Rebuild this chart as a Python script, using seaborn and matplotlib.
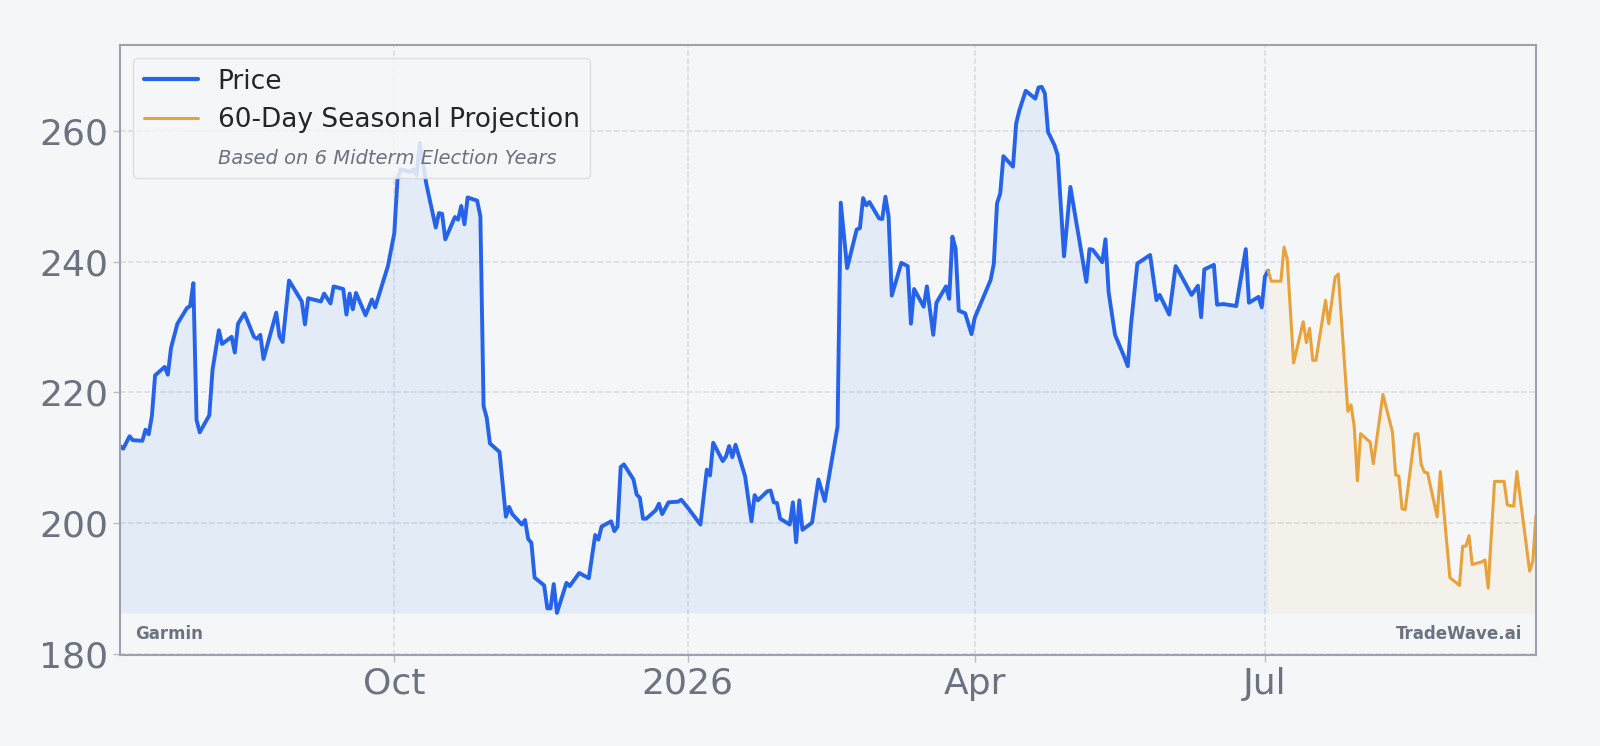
import pandas as pd
import matplotlib
matplotlib.use("Agg")
import matplotlib.pyplot as plt
import matplotlib.dates as mdates
from matplotlib.ticker import MultipleLocator, FuncFormatter
from matplotlib.lines import Line2D
import seaborn as sns

# ---- data ----
price_dates = [
    "2025-07-07", "2025-07-08", "2025-07-10", "2025-07-11", "2025-07-14", "2025-07-15", "2025-07-16",
    "2025-07-17", "2025-07-18", "2025-07-21", "2025-07-22", "2025-07-23", "2025-07-25", "2025-07-28",
    "2025-07-29", "2025-07-30", "2025-07-31", "2025-08-01", "2025-08-04", "2025-08-05", "2025-08-07",
    "2025-08-08", "2025-08-11", "2025-08-12", "2025-08-13", "2025-08-15", "2025-08-18", "2025-08-19",
    "2025-08-20", "2025-08-21", "2025-08-25", "2025-08-26", "2025-08-27", "2025-08-29", "2025-09-02",
    "2025-09-03", "2025-09-04", "2025-09-08", "2025-09-09", "2025-09-11", "2025-09-12", "2025-09-15",
    "2025-09-16", "2025-09-17", "2025-09-18", "2025-09-19", "2025-09-22", "2025-09-24", "2025-09-25",
    "2025-09-29", "2025-10-01", "2025-10-02", "2025-10-03", "2025-10-06", "2025-10-07", "2025-10-08",
    "2025-10-09", "2025-10-11", "2025-10-14", "2025-10-15", "2025-10-16", "2025-10-17", "2025-10-20",
    "2025-10-21", "2025-10-22", "2025-10-23", "2025-10-24", "2025-10-27", "2025-10-28", "2025-10-29",
    "2025-10-30", "2025-10-31", "2025-11-03", "2025-11-05", "2025-11-06", "2025-11-07", "2025-11-10",
    "2025-11-11", "2025-11-12", "2025-11-13", "2025-11-14", "2025-11-17", "2025-11-18", "2025-11-19",
    "2025-11-20", "2025-11-21", "2025-11-24", "2025-11-25", "2025-11-28", "2025-12-01", "2025-12-03",
    "2025-12-04", "2025-12-05", "2025-12-08", "2025-12-09", "2025-12-10", "2025-12-11", "2025-12-12",
    "2025-12-15", "2025-12-16", "2025-12-17", "2025-12-18", "2025-12-19", "2025-12-22", "2025-12-23",
    "2025-12-24", "2025-12-26", "2025-12-29", "2025-12-30", "2026-01-01", "2026-01-05", "2026-01-07",
    "2026-01-08", "2026-01-09", "2026-01-12", "2026-01-13", "2026-01-14", "2026-01-15", "2026-01-16",
    "2026-01-19", "2026-01-21", "2026-01-22", "2026-01-23", "2026-01-26", "2026-01-27", "2026-01-28",
    "2026-01-29", "2026-01-30", "2026-02-02", "2026-02-03", "2026-02-04", "2026-02-05", "2026-02-06",
    "2026-02-09", "2026-02-11", "2026-02-13", "2026-02-17", "2026-02-18", "2026-02-20", "2026-02-23",
    "2026-02-24", "2026-02-25", "2026-02-26", "2026-02-27", "2026-03-02", "2026-03-03", "2026-03-04",
    "2026-03-05", "2026-03-06", "2026-03-09", "2026-03-11", "2026-03-12", "2026-03-13", "2026-03-16",
    "2026-03-17", "2026-03-19", "2026-03-20", "2026-03-23", "2026-03-24", "2026-03-25", "2026-03-26",
    "2026-03-27", "2026-03-29", "2026-03-31", "2026-04-01", "2026-04-06", "2026-04-07", "2026-04-08",
    "2026-04-09", "2026-04-10", "2026-04-13", "2026-04-14", "2026-04-15", "2026-04-17", "2026-04-20",
    "2026-04-21", "2026-04-22", "2026-04-23", "2026-04-24", "2026-04-26", "2026-04-27", "2026-04-29",
    "2026-05-01", "2026-05-06", "2026-05-07", "2026-05-08", "2026-05-11", "2026-05-12", "2026-05-13",
    "2026-05-15", "2026-05-18", "2026-05-19", "2026-05-20", "2026-05-22", "2026-05-26", "2026-05-28",
    "2026-05-29", "2026-06-01", "2026-06-03", "2026-06-04", "2026-06-08", "2026-06-10", "2026-06-11",
    "2026-06-12", "2026-06-15", "2026-06-16", "2026-06-18", "2026-06-22", "2026-06-25", "2026-06-26",
    "2026-06-29", "2026-06-30", "2026-07-01", "2026-07-02",
]
price_values = [
    211.8, 211.4, 213.3, 212.7, 212.6, 214.3, 213.6,
    216.4, 222.6, 223.9, 222.7, 226.8, 230.5, 232.9,
    233.2, 236.7, 215.8, 213.9, 216.5, 223.4, 229.5,
    227.4, 228.5, 226.1, 230.5, 232.1, 228.5, 228.2,
    228.8, 225.1, 232.2, 228.6, 227.7, 237.1, 233.9,
    230.4, 234.4, 233.9, 235.1, 233.6, 236.2, 235.8,
    231.9, 235.1, 232.7, 235.2, 231.8, 234.2, 233.0,
    239.3, 244.3, 252.5, 254.1, 253.7, 254.1, 253.2,
    258.1, 252.0, 245.2, 247.4, 247.3, 243.4, 246.8,
    246.4, 248.5, 245.7, 249.8, 249.3, 246.9, 217.9,
    216.1, 212.2, 210.9, 201.0, 202.5, 201.4, 199.8,
    200.5, 197.6, 197.0, 191.7, 190.5, 187.0, 187.0,
    190.7, 186.3, 190.9, 190.4, 192.4, 191.6, 198.2,
    197.5, 199.5, 200.3, 198.8, 199.5, 208.6, 209.0,
    206.7, 204.4, 203.9, 200.7, 200.7, 202.0, 203.0,
    201.4, 203.2, 203.3, 203.6, 202.4, 199.8, 208.2,
    207.3, 212.3, 209.5, 210.2, 211.8, 210.1, 212.0,
    207.2, 200.3, 204.3, 203.5, 204.9, 205.0, 203.2,
    203.1, 200.7, 199.8, 203.2, 197.1, 203.5, 199.0,
    200.1, 206.7, 203.4, 214.8, 249.0, 239.0, 244.9,
    245.1, 249.7, 248.6, 249.1, 246.6, 246.5, 249.9,
    246.9, 234.8, 239.8, 239.3, 230.5, 235.8, 233.1,
    236.2, 228.8, 233.7, 236.2, 234.3, 243.8, 242.0,
    232.5, 232.1, 228.9, 231.4, 237.2, 239.7, 248.9,
    250.4, 256.1, 254.5, 261.1, 263.1, 266.1, 264.9,
    266.6, 266.7, 265.7, 259.8, 257.8, 256.3, 240.8,
    251.4, 236.9, 241.9, 241.8, 239.9, 243.4, 235.3,
    228.8, 225.3, 224.0, 230.3, 239.7, 241.0, 234.1,
    234.9, 231.9, 239.3, 238.5, 234.9, 236.3, 231.5,
    238.8, 239.5, 233.4, 233.5, 233.2, 241.9, 233.7,
    234.6, 233.0, 237.7, 238.6,
]

proj_dates = [
    "2026-07-02", "2026-07-03", "2026-07-06", "2026-07-07", "2026-07-08", "2026-07-10", "2026-07-13",
    "2026-07-14", "2026-07-15", "2026-07-16", "2026-07-17", "2026-07-20", "2026-07-21", "2026-07-23",
    "2026-07-24", "2026-07-27", "2026-07-28", "2026-07-29", "2026-07-30", "2026-07-31", "2026-08-03",
    "2026-08-04", "2026-08-07", "2026-08-10", "2026-08-11", "2026-08-12", "2026-08-13", "2026-08-14",
    "2026-08-17", "2026-08-18", "2026-08-19", "2026-08-20", "2026-08-21", "2026-08-24", "2026-08-25",
    "2026-08-28", "2026-08-31", "2026-09-01", "2026-09-02", "2026-09-03", "2026-09-04", "2026-09-07",
    "2026-09-08", "2026-09-09", "2026-09-11", "2026-09-14", "2026-09-15", "2026-09-17", "2026-09-18",
    "2026-09-22", "2026-09-23", "2026-09-24",
]
proj_values = [
    238.6, 237.0, 237.0, 242.2, 240.4, 224.5, 230.8,
    227.6, 229.8, 224.9, 224.9, 234.1, 230.5, 237.6,
    238.1, 217.1, 218.1, 214.8, 206.5, 213.7, 212.4,
    209.1, 219.7, 213.9, 207.4, 207.2, 202.2, 202.1,
    213.6, 213.7, 209.0, 207.8, 207.7, 201.0, 207.9,
    191.7, 190.5, 196.5, 196.5, 198.1, 193.7, 194.1,
    194.4, 190.1, 206.4, 206.4, 202.8, 202.6, 207.9,
    192.7, 194.2, 201.2,
]

series_labels = ["Price", "60-Day Seasonal Projection"]
legend_note = "Based on 6 Midterm Election Years"
ticker_name = "Garmin"
brand_name = "TradeWave.ai"

price_df = pd.DataFrame({"Date": pd.to_datetime(price_dates), "Close": price_values})
proj_df = pd.DataFrame({"Date": pd.to_datetime(proj_dates), "Close": proj_values})

# ---- style ----
BG = "#f5f6f8"
BLUE = "#2563eb"
ORANGE = "#e9a23b"
GRAY = "#6b7280"
GRID = "#d8dce2"

sns.set_style("whitegrid")
plt.rcParams["font.family"] = ["DejaVu Sans"]

fig = plt.figure(figsize=(16, 7.46), dpi=100, facecolor=BG)
ax = fig.add_axes([0.075, 0.122, 0.885, 0.818])
ax.set_facecolor(BG)

# shaded areas down to the lowest close
base = price_df["Close"].min()
ax.fill_between(price_df["Date"], price_df["Close"], base, color="#3f8fec", alpha=0.1, lw=0)
ax.fill_between(proj_df["Date"], proj_df["Close"], base, color=ORANGE, alpha=0.07, lw=0)

sns.lineplot(data=price_df, x="Date", y="Close", color=BLUE, linewidth=2.8, ax=ax)
sns.lineplot(data=proj_df, x="Date", y="Close", color=ORANGE, linewidth=2.2, ax=ax)

lo = min(price_df["Close"].min(), proj_df["Close"].min())
hi = max(price_df["Close"].max(), proj_df["Close"].max())
pad = (hi - lo) * 0.08
ax.set_ylim(lo - pad, hi + pad)
ax.set_xlim(price_df["Date"].iloc[0], proj_df["Date"].iloc[-1])

ax.yaxis.set_major_locator(MultipleLocator(20))
ax.xaxis.set_major_locator(mdates.MonthLocator(bymonth=[1, 4, 7, 10]))


def month_fmt(x, pos):
    d = mdates.num2date(x)
    return str(d.year) if d.month == 1 else d.strftime("%b")


ax.xaxis.set_major_formatter(FuncFormatter(month_fmt))

ax.grid(True, color=GRID, linestyle="--", linewidth=1.1)
for s in ax.spines.values():
    s.set_visible(True)
    s.set_color("#9ca3af")
    s.set_linewidth(1.5)

ax.tick_params(axis="both", labelsize=26, labelcolor=GRAY, color="#b8bdc6", length=5, width=1, bottom=True, left=True)
ax.set_xlabel("")
ax.set_ylabel("")

handles = [
    Line2D([0], [0], color=BLUE, lw=3),
    Line2D([0], [0], color=ORANGE, lw=2.2),
    Line2D([0], [0], color="none"),
]
leg = ax.legend(handles, series_labels + [legend_note], loc="upper left", fontsize=19,
                frameon=True, facecolor=BG, edgecolor="#d6d9de", framealpha=0.85,
                labelspacing=0.47, handlelength=2.05, handletextpad=0.75, borderpad=0.4)
leg.get_texts()[2].set(fontstyle="italic", fontsize=14, color=GRAY)

ax.text(0.0104, 0.035, ticker_name, transform=ax.transAxes, fontsize=12, fontweight="bold",
        color=GRAY, va="center", ha="left")
ax.text(0.99, 0.035, brand_name, transform=ax.transAxes, fontsize=12, fontweight="bold",
        color=GRAY, va="center", ha="right")

fig.savefig("out.png", dpi=100, facecolor=BG)
